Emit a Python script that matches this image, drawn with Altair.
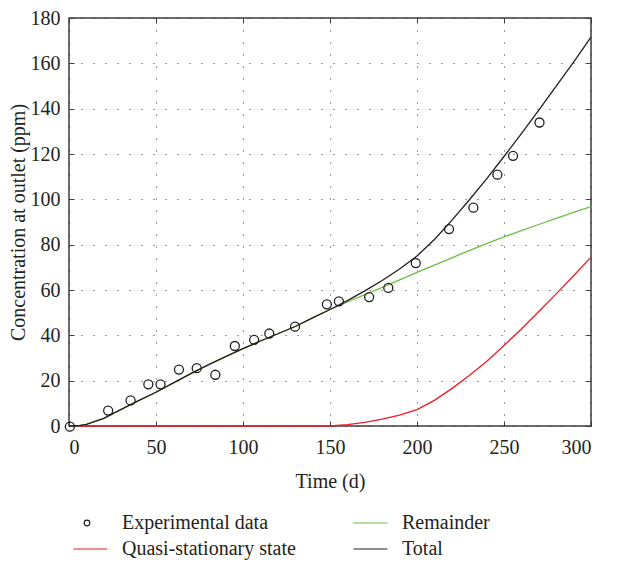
import altair as alt
import pandas as pd

# ---- data ----
time_curve = [0, 5, 10, 20, 30, 40, 50, 60, 70, 80, 90, 100, 110, 120, 130, 140, 150,
              160, 170, 180, 190, 200, 210, 220, 230, 240, 250, 260, 270, 280, 290, 300]
remainder = [0, 0.1, 0.7, 3.4, 7.3, 11.2, 14.9, 19.0, 23.1, 27.0, 30.6, 34.1, 37.5, 40.7, 43.9, 47.7, 51.4,
             54.7, 58.0, 61.2, 64.5, 67.8, 71.0, 74.2, 77.4, 80.5, 83.4, 86.2, 88.9, 91.6, 94.2, 96.8]
quasi = [0, 0, 0, 0, 0, 0, 0, 0, 0, 0, 0, 0, 0, 0, 0, 0, 0,
         0.6, 1.6, 3.0, 4.8, 7.2, 11.3, 16.5, 22.3, 28.5, 35.5, 42.8, 50.5, 58.3, 66.3, 74.5]
total = [0, 0.1, 0.7, 3.4, 7.3, 11.2, 14.9, 19.0, 23.1, 27.0, 30.6, 34.1, 37.5, 40.7, 43.9, 47.7, 51.4,
         55.3, 59.6, 64.2, 69.3, 75.0, 82.3, 90.7, 99.7, 109.0, 118.9, 129.0, 139.4, 149.9, 160.5, 171.6]

time_obs = [0.5, 22.5, 35.4, 45.6, 52.6, 63.2, 73.4, 84.1, 95.3, 106.4, 115.1, 129.9, 148.2, 155.1,
            172.5, 183.5, 199.3, 218.4, 232.4, 246.2, 255.2, 270.4]
conc_obs = [-0.3, 6.8, 11.3, 18.4, 18.4, 24.9, 25.5, 22.6, 35.3, 38.0, 40.8, 43.8, 53.7, 55.0,
            56.9, 60.9, 71.9, 86.9, 96.3, 110.9, 119.2, 133.9]

x_ticks = [0, 50, 100, 150, 200, 250, 300]
y_ticks = [0, 20, 40, 60, 80, 100, 120, 140, 160, 180]

series_names = ["Experimental data", "Remainder", "Quasi-stationary state", "Total"]
series_colors = ["#231f20", "#6cbd45", "#ed1c24", "#231f20"]

# ---- tables ----
def curve_df(values, name):
    return pd.DataFrame({"t": time_curve, "c": values, "series": name})

df_quasi = curve_df(quasi, "Quasi-stationary state")
df_rem = curve_df(remainder, "Remainder")
df_total = curve_df(total, "Total")
df_obs = pd.DataFrame({"t": time_obs, "c": conc_obs, "series": "Experimental data"})

FONT = "Liberation Serif"
INK = "#231f20"
circle_path = "M0.33,0A0.33,0.33 0 1,1 -0.33,0A0.33,0.33 0 1,1 0.33,0Z"
line_path = "M-1.6,0H2.4"

x_scale = alt.Scale(domain=[0, 300], nice=False, zero=False)
y_scale = alt.Scale(domain=[0, 180], nice=False, zero=False)

legend = alt.Legend(title=None, orient="bottom", columns=2, columnPadding=55, rowPadding=6,
                    labelFont=FONT, labelFontSize=20, labelColor=INK, labelOffset=25, labelLimit=400,
                    symbolSize=289, symbolStrokeWidth=1.2, offset=14, padding=8)

color_enc = alt.Color("series:N", scale=alt.Scale(domain=series_names, range=series_colors), legend=legend)
shape_enc = alt.Shape("series:N", scale=alt.Scale(domain=series_names,
                      range=[circle_path, line_path, line_path, line_path]), legend=legend)

common_axis = dict(labelFont=FONT, labelFontSize=20, labelColor=INK, titleFont=FONT, titleFontSize=20,
                   titleFontWeight="normal", titleColor=INK, domain=False, tickColor="#3d3d3d",
                   tickSize=5, offset=-5, gridColor="#333333", gridDash=[1, 11], gridWidth=1)

x_main = alt.X("t:Q", scale=x_scale, axis=alt.Axis(orient="bottom", values=x_ticks, title="Time (d)",
               grid=True, labelPadding=11, titlePadding=14, **common_axis))
y_main = alt.Y("c:Q", scale=y_scale, axis=alt.Axis(orient="left", values=y_ticks,
               title="Concentration at outlet (ppm)", grid=True, labelPadding=9, titlePadding=2,
               **common_axis))
x_top = alt.X("t:Q", scale=x_scale, axis=alt.Axis(orient="top", values=x_ticks, title=None, labels=False,
              grid=False, **common_axis))
y_right = alt.Y("c:Q", scale=y_scale, axis=alt.Axis(orient="right", values=y_ticks, title=None,
                labels=False, grid=False, **common_axis))
x_none = alt.X("t:Q", scale=x_scale, axis=None)
y_none = alt.Y("c:Q", scale=y_scale, axis=None)

red_line = alt.Chart(df_quasi).mark_line(strokeWidth=1.3).encode(x=x_main, y=y_main, color=color_enc)
green_line = alt.Chart(df_rem).mark_line(strokeWidth=1.3).encode(x=x_none, y=y_none, color=color_enc)
black_line = alt.Chart(df_total).mark_line(strokeWidth=1.3).encode(x=x_none, y=y_none, color=color_enc)
points = alt.Chart(df_obs).mark_point(filled=False, size=744, strokeWidth=1.3, opacity=1).encode(
    x=x_top, y=y_right, color=color_enc, shape=shape_enc)

chart = alt.layer(red_line, green_line, black_line, points).resolve_axis(
    x="independent", y="independent"
).properties(
    width=522, height=408,
    padding={"left": 0, "top": 0, "right": 0, "bottom": 0},
    background="white",
).configure_view(stroke="#3d3d3d", strokeWidth=1.5)

chart.save("out.html", embed_options={"renderer": "svg", "actions": False})
